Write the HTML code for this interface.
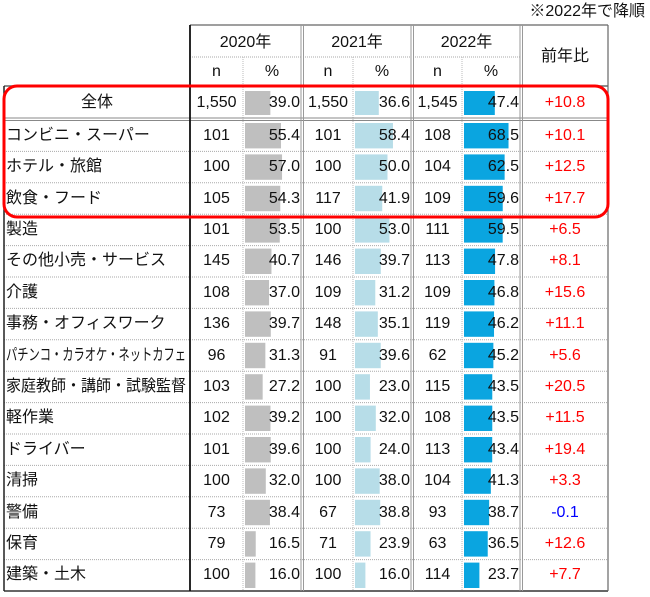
<!DOCTYPE html>
<html><head><meta charset="utf-8"><style>
body{margin:0;background:#fff;width:650px;height:597px;overflow:hidden;font-family:"Liberation Sans","Noto Sans CJK JP",sans-serif;}
#c{position:absolute;left:0;top:0;width:650px;height:597px}
.t{position:absolute;font-size:16px;color:#111;white-space:nowrap;line-height:20px}
</style></head><body>
<div id="c"></div>
<script>
const categories=["全体","コンビニ・スーパー","ホテル・旅館","飲食・フード","製造","その他小売・サービス","介護","事務・オフィスワーク","パチンコ・カラオケ・ネットカフェ","家庭教師・講師・試験監督","軽作業","ドライバー","清掃","警備","保育","建築・土木"];
const n2020=["1,550","101","100","105","101","145","108","136","96","103","102","101","100","73","79","100"];
const p2020=[39.0,55.4,57.0,54.3,53.5,40.7,37.0,39.7,31.3,27.2,39.2,39.6,32.0,38.4,16.5,16.0];
const n2021=["1,550","101","100","117","100","146","109","148","91","100","100","100","100","67","71","100"];
const p2021=[36.6,58.4,50.0,41.9,53.0,39.7,31.2,35.1,39.6,23.0,32.0,24.0,38.0,38.8,23.9,16.0];
const n2022=["1,545","108","104","109","111","113","109","119","62","115","108","113","104","93","63","114"];
const p2022=[47.4,68.5,62.5,59.6,59.5,47.8,46.8,46.2,45.2,43.5,43.5,43.4,41.3,38.7,36.5,23.7];
const diffs=[10.8,10.1,12.5,17.7,6.5,8.1,15.6,11.1,5.6,20.5,11.5,19.4,3.3,-0.1,12.6,7.7];

const C=document.getElementById('c');
const NS='http://www.w3.org/2000/svg';
const svg=document.createElementNS(NS,'svg');
svg.setAttribute('width','650');svg.setAttribute('height','597');
svg.style.position='absolute';svg.style.left='0';svg.style.top='0';
C.appendChild(svg);
function line(x1,y1,x2,y2,col,w,dash){const l=document.createElementNS(NS,'line');l.setAttribute('x1',x1);l.setAttribute('y1',y1);l.setAttribute('x2',x2);l.setAttribute('y2',y2);l.setAttribute('stroke',col);l.setAttribute('stroke-width',w);if(dash)l.setAttribute('stroke-dasharray',dash);svg.appendChild(l);return l;}
function text(s,x,y,w,align,color){const d=document.createElement('div');d.className='t';d.textContent=s;d.style.left=x+'px';d.style.top=(y-10)+'px';d.style.width=w+'px';d.style.textAlign=align;if(color)d.style.color=color;C.appendChild(d);return d;}

const groups=[{n:190,p:243,e:301,col:'#bfbfbf',ns:n2020,ps:p2020,y:'2020年'},{n:303,p:353,e:411,col:'#b7dde8',ns:n2021,ps:p2021,y:'2021年'},{n:413,p:462,e:520,col:'#0aa5e0',ns:n2022,ps:p2022,y:'2022年'}];
const scale=0.65; // px per %
const RH=(591-120)/15;
const rowTop=i=> i===0?88:120+(i-1)*RH;
const rowH=i=> i===0?30:RH;

// header
let note=text('※2022年で降順',500,12,145,'right');

groups.forEach((g,gi)=>{
  let h=text(g.y,g.n,43,g.e-g.n,'center');
  
  let a=text('n',g.n,72,g.p-g.n,'center');
  
  let b=text('%',g.p,72,g.e-g.p,'center');
  
  line(g.n,57,g.e,57,'#aaa',1,'1,1');
  line(g.p,57,g.p,591,'#bbb',1,'1,1');
});
let yh=text('前年比',522,57,86,'center');


// rows
categories.forEach((cat,i)=>{
  const top=rowTop(i),h=rowH(i),cy=top+h/2;
  groups.forEach((g,gi)=>{
    const r=document.createElementNS(NS,'rect');
    r.setAttribute('x',g.p+2);r.setAttribute('y',top+3);
    r.setAttribute('width',g.ps[i]*scale);r.setAttribute('height',h-6);
    r.setAttribute('fill',g.col);
    
    
    svg.appendChild(r);
    let nt=text(g.ns[i],g.n,cy,g.p-g.n,'center');
    
    let pt=text(g.ps[i].toFixed(1),g.p,cy,g.e-g.p-1,'right');
    
  });
  const lt=text(cat,i===0?4:6,cy,i===0?186:182,i===0?'center':'left');
  
  if(i>0){
    lt.style.width='auto';
    const w=lt.getBoundingClientRect().width;
    if(w>180){lt.style.transformOrigin='0 50%';lt.style.transform='scaleX('+(180/w)+')';}
  }
  const d=diffs[i];
  const dt=text((d>=0?'+':'')+d.toFixed(1),522,cy,86,'center',d>=0?'#ff0000':'#0000ff');
  
  if(i>1) line(4,top,608,top,'#aaa',1,'1,1');
});
// structure lines
line(190,25,608,25,'#666',1.2);
line(4,86,608,86,'#666',1.5);
line(4,118,608,118,'#888',1);line(4,120.5,608,120.5,'#888',1);
line(4,591,608,591,'#333',1.5);
line(4,86,4,591,'#222',1.5);
line(190,25,190,591,'#111',1.8);
[301,411,520].forEach(x=>{line(x,25,x,591,'#999',1);line(x+2.5,25,x+2.5,591,'#999',1);});
line(608,25,608,591,'#666',1.2);
// highlight box
const hb=document.createElementNS(NS,'rect');
hb.setAttribute('x',4);hb.setAttribute('y',86);hb.setAttribute('width',604);hb.setAttribute('height',131);
hb.setAttribute('rx',13);hb.setAttribute('fill','none');hb.setAttribute('stroke','#ff0000');hb.setAttribute('stroke-width',3);


svg.appendChild(hb);
</script>
</body></html>
